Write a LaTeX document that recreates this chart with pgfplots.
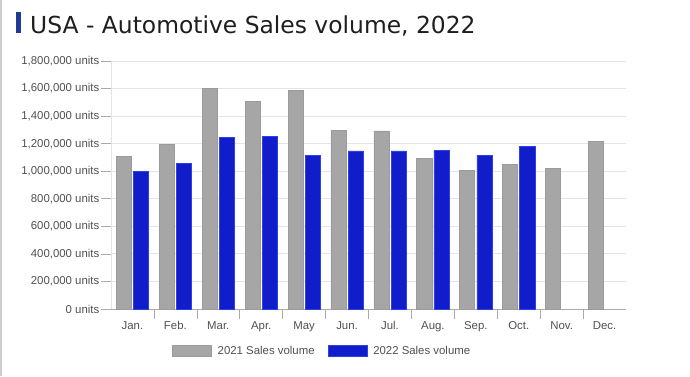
\documentclass[border=0pt]{standalone}
\usepackage{fontspec}
\setmainfont{Liberation Sans}
\newfontfamily\titlefont{DejaVu Sans}
\usepackage{pgfplots}
\pgfplotsset{compat=1.18}
\definecolor{gbar}{RGB}{166,166,166}
\definecolor{gedge}{RGB}{155,155,155}
\definecolor{bbar}{RGB}{17,29,203}
\definecolor{bedge}{RGB}{45,65,230}
\definecolor{gridc}{RGB}{228,228,228}
\definecolor{tickc}{RGB}{170,170,170}
\definecolor{labc}{RGB}{80,80,80}
\definecolor{titlec}{RGB}{30,30,30}
\definecolor{titlemark}{RGB}{30,60,150}
\definecolor{borderc}{RGB}{205,205,205}
\begin{document}
\begin{tikzpicture}[x=1pt,y=1pt]
\path[use as bounding box] (0,0) rectangle (690,376);
\draw[borderc, line width=1.5pt] (0.75,0) -- (0.75,376);
\fill[titlemark] (16,343) rectangle (21,364);
\node[anchor=base west, inner sep=0, text=titlec, font=\titlefont\fontsize{23.4}{28}\selectfont] at (30,343) {USA - Automotive Sales volume, 2022};
\begin{axis}[
  at={(111pt,67pt)}, anchor=south west,
  scale only axis, width=515pt, height=248pt,
  xmin=-0.5, xmax=11.5, ymin=0, ymax=1800000,
  ybar, bar width=0.35,
  axis x line=bottom, axis y line=left,
  axis line style={-},
  x axis line style={draw=tickc, line width=0.8pt},
  y axis line style={draw=gridc, line width=0.8pt},
  ymajorgrids, grid style={draw=gridc, line width=0.8pt},
  tick align=outside, major tick length=10pt,
  tick style={draw=tickc, line width=0.6pt},
  scaled ticks=false,
  ytick={0,200000,400000,600000,800000,1000000,1200000,1400000,1600000,1800000},
  yticklabels={0 units,{200,000 units},{400,000 units},{600,000 units},{800,000 units},{1,000,000 units},{1,200,000 units},{1,400,000 units},{1,600,000 units},{1,800,000 units}},
  xtick={0.5,1.5,2.5,3.5,4.5,5.5,6.5,7.5,8.5,9.5,10.5},
  xticklabels={},
  extra x ticks={0,1,2,3,4,5,6,7,8,9,10,11},
  extra x tick labels={Jan.,Feb.,Mar.,Apr.,May,Jun.,Jul.,Aug.,Sep.,Oct.,Nov.,Dec.},
  extra x tick style={major tick length=0pt, tick style={draw=none}},
  ticklabel style={font=\fontsize{11.4}{13}\selectfont, text=labc},
  yticklabel style={inner sep=1.5pt},
  xticklabel style={yshift=-9pt},
  legend style={at={(0.41,-0.169)}, anchor=center, draw=none, fill=none,
    font=\fontsize{11.4}{13}\selectfont, text=labc,
    legend columns=2,
    /tikz/every odd column/.append style={column sep=4pt},
    /tikz/every even column/.append style={column sep=11pt}},
  legend image code/.code={\draw[#1] (0pt,-5.5pt) rectangle (39pt,5.5pt);},
]
\addplot[fill=gbar, draw=gedge, line width=0.6pt, bar shift=-0.2] coordinates {
 (0,1108000) (1,1195000) (2,1601000) (3,1509000) (4,1584000) (5,1299000)
 (6,1292000) (7,1093000) (8,1006000) (9,1052000) (10,1021000) (11,1219000)};
\addlegendentry{2021 Sales volume}
\addplot[fill=bbar, draw=bedge, line width=0.6pt, bar shift=0.2] coordinates {
 (0,1001000) (1,1057000) (2,1248000) (3,1255000) (4,1115000) (5,1147000)
 (6,1147000) (7,1151000) (8,1117000) (9,1183000)};
\addlegendentry{2022 Sales volume}
\end{axis}
\end{tikzpicture}
\end{document}
